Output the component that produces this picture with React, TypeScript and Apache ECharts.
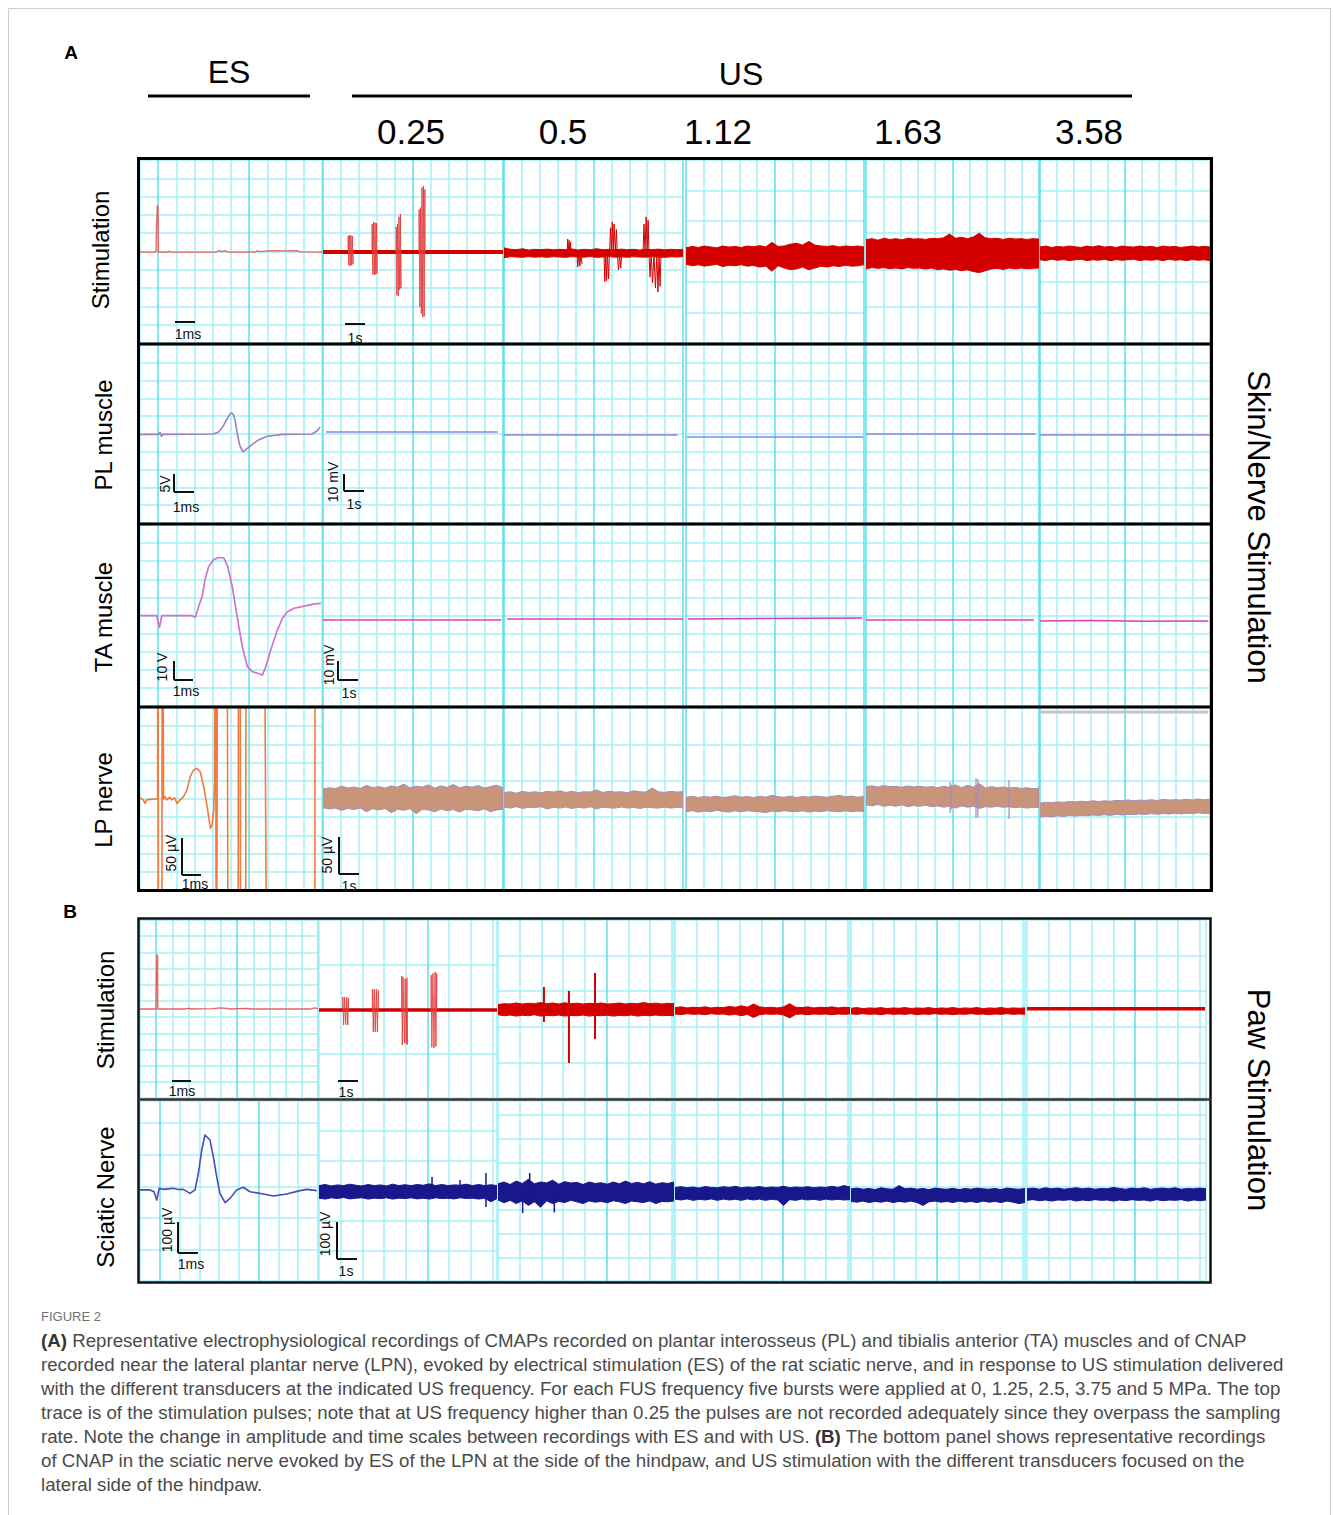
import React, { useEffect, useRef } from "react";
import * as echarts from "echarts";

/* ================= texts ================= */
const esLabel = "ES";
const usLabel = "US";
const usFrequencyLabels = ["0.25", "0.5", "1.12", "1.63", "3.58"];
const panelARowLabels = ["Stimulation", "PL muscle", "TA muscle", "LP nerve"];
const panelBRowLabels = ["Stimulation", "Sciatic Nerve"];
const panelASideLabel = "Skin/Nerve Stimulation";
const panelBSideLabel = "Paw Stimulation";
const figureLabel = "FIGURE 2";
const captionLines = [
  "{b|(A)} Representative electrophysiological recordings of CMAPs recorded on plantar interosseus (PL) and tibialis anterior (TA) muscles and of CNAP",
  "recorded near the lateral plantar nerve (LPN), evoked by electrical stimulation (ES) of the rat sciatic nerve, and in response to US stimulation delivered",
  "with the different transducers at the indicated US frequency. For each FUS frequency five bursts were applied at 0, 1.25, 2.5, 3.75 and 5 MPa. The top",
  "trace is of the stimulation pulses; note that at US frequency higher than 0.25 the pulses are not recorded adequately since they overpass the sampling",
  "rate. Note the change in amplitude and time scales between recordings with ES and with US. {b|(B)} The bottom panel shows representative recordings",
  "of CNAP in the sciatic nerve evoked by ES of the LPN at the side of the hindpaw, and US stimulation with the different transducers focused on the",
  "lateral side of the hindpaw.",
];

/* ================= data (x, y in tenths of each recording panel) ================= */
// ---- Panel A, row 1: stimulation ----
const aStimES = [[0,4.97],[0.88,4.97],[0.9,6.2],[0.93,6.2],[0.95,7.49],[0.99,7.49],[1.01,4.97],[1.5,4.97],[1.6,5.02],[1.7,4.97],[4.2,4.97],[4.35,5.05],[4.5,4.99],[4.65,5.05],[4.8,4.97],[6.3,4.97],[6.45,5.04],[6.6,4.99],[7.2,5.04],[8,5.03],[8.6,5.05],[8.8,4.98],[10,4.97]];
const aStim025Base = [[0,4.97],[10,4.97]];
const aStim025Bursts = [
  [[1.39,4.97],[1.4,5.85],[1.43,4.25],[1.47,5.9],[1.51,4.21],[1.55,5.88],[1.59,4.25],[1.63,5.85],[1.67,4.3],[1.67,4.97]],
  [[2.72,4.97],[2.73,6.5],[2.77,3.75],[2.81,6.61],[2.85,3.72],[2.89,6.58],[2.93,3.75],[2.97,6.55],[3.0,3.8],[3.0,4.97]],
  [[4.06,4.97],[4.07,6.34],[4.1,2.6],[4.14,6.5],[4.18,2.57],[4.22,6.9],[4.26,2.9],[4.3,7.05],[4.33,3.0],[4.33,4.97]],
  [[5.33,4.97],[5.34,7.3],[5.38,1.97],[5.42,7.4],[5.46,1.6],[5.5,8.5],[5.54,1.42],[5.58,8.58],[5.62,1.45],[5.66,8.4],[5.67,4.97]],
];
const aStim05Hi = [5.2,5.12,5.1,5.15,5.08,5.12,5.1,5.13,5.09,5.12,5.1,5.14,5.08,5.12,5.1,5.15,5.1,5.12,5.09,5.13,5.1,5.12,5.08,5.12,5.1,5.13,5.09,5.12,5.1,5.12];
const aStim05Lo = [4.65,4.72,4.7,4.68,4.72,4.69,4.71,4.68,4.72,4.7,4.68,4.72,4.7,4.69,4.72,4.68,4.7,4.72,4.69,4.71,4.68,4.72,4.7,4.69,4.72,4.7,4.68,4.71,4.7,4.72];
const aStim05Bursts = [
  [[3.52,4.9],[3.56,5.68],[3.6,4.9],[3.64,5.6],[3.68,4.9],[3.72,5.5],[3.74,4.9]],
  [[4.08,4.9],[4.12,4.15],[4.18,4.9],[4.24,4.2],[4.3,4.9],[4.36,4.3]],
  [[5.59,4.9],[5.63,3.35],[5.68,4.9],[5.73,3.4],[5.78,4.9],[5.84,3.5],[5.9,5.0],[5.95,6.3],[6.0,5.0],[6.05,6.61],[6.1,5.0],[6.15,6.5],[6.22,5.0],[6.28,6.2],[6.33,4.9],[6.4,4.0],[6.46,4.9],[6.52,4.1],[6.58,4.9]],
  [[7.77,5.0],[7.82,6.5],[7.88,5.0],[7.94,6.89],[8.0,5.0],[8.05,6.7],[8.1,4.9],[8.16,3.6],[8.22,4.9],[8.3,3.3],[8.38,4.9],[8.46,3.0],[8.54,4.8],[8.6,2.79],[8.66,4.8],[8.72,3.1],[8.77,4.8]],
];
const aStim112Hi = [5.2,5.28,5.22,5.3,5.25,5.2,5.3,5.24,5.28,5.22,5.3,5.26,5.32,5.25,5.5,5.28,5.3,5.4,5.45,5.35,5.55,5.35,5.3,5.28,5.32,5.25,5.3,5.27,5.3,5.25];
const aStim112Lo = [4.3,4.22,4.28,4.2,4.25,4.3,4.18,4.25,4.22,4.28,4.2,4.24,4.15,4.2,3.92,4.22,4.1,4.0,4.05,4.15,4.0,4.1,4.2,4.15,4.22,4.18,4.25,4.2,4.22,4.28];
const aStim163Hi = [5.65,5.7,5.62,5.72,5.66,5.7,5.64,5.72,5.68,5.7,5.66,5.72,5.7,5.75,5.95,5.72,5.78,5.7,5.8,6.0,5.75,5.7,5.72,5.66,5.72,5.68,5.7,5.66,5.7,5.68];
const aStim163Lo = [4.05,4.12,4.08,4.12,4.06,4.1,4.05,4.12,4.08,4.1,4.04,4.1,4.0,4.05,3.98,4.02,3.95,4.0,3.9,3.85,3.95,4.05,4.08,4.02,4.1,4.05,4.1,4.06,4.08,4.1];
const aStim358Hi = [5.25,5.3,5.22,5.28,5.24,5.3,5.26,5.22,5.3,5.25,5.32,5.24,5.28,5.22,5.3,5.26,5.24,5.3,5.25,5.28,5.22,5.3,5.25,5.28,5.22,5.26,5.3,5.24,5.28,5.25];
const aStim358Lo = [4.55,4.5,4.58,4.52,4.56,4.5,4.55,4.58,4.5,4.55,4.52,4.58,4.5,4.56,4.52,4.55,4.58,4.5,4.55,4.52,4.56,4.5,4.58,4.52,4.55,4.5,4.56,4.52,4.55,4.5];

// ---- Panel A, row 2: PL muscle ----
const aPlES = [[0,4.98],[1.04,4.98],[1.1,5.1],[1.18,4.88],[1.28,4.98],[4.01,5.0],[4.3,5.1],[4.51,5.34],[4.7,5.7],[4.84,5.95],[4.95,6.14],[5.05,6.18],[5.15,6.05],[5.22,5.8],[5.3,5.3],[5.38,4.83],[5.5,4.3],[5.66,3.99],[5.85,4.15],[6.04,4.3],[6.43,4.62],[6.98,4.87],[7.86,4.98],[9.45,5.0],[9.73,5.17],[9.89,5.39]];
const aPlUS = [
  [[0.17,5.11],[9.72,5.11]],
  [[0,4.94],[9.7,4.94]],
  [[0.05,4.83],[9.95,4.83]],
  [[0,5.0],[9.8,5.0]],
  [[0,4.94],[10,4.94]],
];

// ---- Panel A, row 3: TA muscle ----
const aTaES = [[0,4.99],[0.92,4.99],[1.07,4.35],[1.2,4.99],[2.86,4.99],[3.04,4.9],[3.22,5.49],[3.41,6.04],[3.59,7.06],[3.77,7.7],[4.05,8.1],[4.33,8.19],[4.6,8.19],[4.82,7.7],[5.07,6.59],[5.34,4.93],[5.62,3.28],[5.9,2.17],[6.17,1.9],[6.45,1.81],[6.72,1.71],[6.91,2.17],[7.18,3.09],[7.55,4.2],[7.83,4.85],[8.1,5.21],[8.47,5.4],[9.02,5.52],[9.57,5.64],[9.94,5.67]];
const aTaUS = [
  [[0,4.75],[9.9,4.75]],
  [[0.17,4.81],[10,4.81]],
  [[0.1,4.81],[9.9,4.86]],
  [[0,4.75],[9.7,4.75]],
  [[0,4.7],[3,4.72],[6,4.68],[9.9,4.7]],
];

// ---- Panel A, row 4: LP nerve ----
const aLpES = [[0,5.07],[0.18,4.95],[0.28,4.76],[0.37,4.95],[0.55,4.98],[0.88,5.0],[0.97,5.0],[0.99,22],[1.02,-12],[1.2,-12],[1.22,22],[1.26,22],[1.29,5.0],[1.38,5.13],[1.47,4.95],[1.62,5.09],[1.75,4.95],[1.9,5.07],[2.03,4.76],[2.21,4.95],[2.39,5.13],[2.58,5.49],[2.76,6.23],[2.94,6.59],[3.13,6.68],[3.31,6.5],[3.5,5.68],[3.69,4.58],[3.87,3.39],[3.96,3.57],[4.05,4.4],[4.1,5.86],[4.14,22],[4.2,-12],[4.27,22],[4.78,22],[4.85,-12],[5.38,-12],[5.42,22],[5.5,22],[5.53,-12],[5.8,-12],[5.83,22],[6.8,22],[7.0,-12],[9.6,-12],[9.62,22],[10,22]];
const aLp025Hi = [5.55,5.62,5.58,5.7,5.6,5.66,5.58,5.75,5.62,5.68,5.6,5.72,5.65,5.82,5.62,5.7,5.66,5.78,5.6,5.72,5.64,5.8,5.62,5.7,5.65,5.74,5.6,5.68,5.76,5.62];
const aLp025Lo = [4.52,4.45,4.5,4.38,4.48,4.42,4.5,4.3,4.46,4.4,4.48,4.25,4.44,4.38,4.46,4.2,4.42,4.4,4.3,4.45,4.36,4.42,4.28,4.44,4.4,4.35,4.46,4.3,4.4,4.44];
const aLp05Hi = [5.35,5.4,5.32,5.42,5.36,5.4,5.34,5.42,5.38,5.45,5.36,5.42,5.35,5.4,5.38,5.5,5.36,5.42,5.38,5.4,5.35,5.45,5.4,5.38,5.6,5.4,5.36,5.42,5.38,5.4];
const aLp05Lo = [4.55,4.5,4.58,4.48,4.55,4.52,4.58,4.45,4.55,4.5,4.56,4.48,4.54,4.5,4.57,4.46,4.55,4.52,4.5,4.56,4.5,4.54,4.48,4.55,4.52,4.5,4.56,4.5,4.54,4.52];
const aLp112Hi = [5.1,5.15,5.08,5.14,5.1,5.16,5.08,5.12,5.18,5.1,5.14,5.08,5.15,5.1,5.2,5.12,5.1,5.15,5.08,5.14,5.1,5.16,5.12,5.1,5.15,5.2,5.12,5.16,5.1,5.14];
const aLp112Lo = [4.3,4.36,4.28,4.34,4.3,4.38,4.32,4.28,4.35,4.3,4.36,4.32,4.3,4.25,4.34,4.3,4.36,4.32,4.3,4.35,4.28,4.34,4.3,4.36,4.32,4.3,4.35,4.3,4.34,4.32];
const aLp163Hi = [5.68,5.72,5.66,5.74,5.68,5.7,5.64,5.72,5.66,5.7,5.65,5.68,5.62,5.7,5.64,5.78,5.62,5.75,5.66,5.85,5.6,5.68,5.62,5.66,5.6,5.64,5.58,5.62,5.56,5.6];
const aLp163Lo = [4.68,4.62,4.7,4.6,4.66,4.6,4.68,4.58,4.64,4.6,4.66,4.58,4.62,4.55,4.6,4.5,4.62,4.55,4.6,4.48,4.58,4.55,4.6,4.54,4.58,4.52,4.56,4.5,4.55,4.52];
const aLp163Spikes = [[4.86,4.23,5.93],[4.92,4.4,5.8],[6.36,3.96,6.15],[6.47,4.0,6.1],[8.27,3.9,6.04]];
const aLp358Hi = [4.78,4.82,4.8,4.84,4.82,4.86,4.84,4.88,4.85,4.9,4.86,4.9,4.88,4.92,4.9,4.95,4.9,4.94,4.92,4.96,4.92,4.98,4.94,4.96,4.94,4.98,4.95,5.0,4.96,4.98];
const aLp358Lo = [4.0,4.05,4.02,4.08,4.04,4.1,4.06,4.1,4.08,4.12,4.1,4.14,4.1,4.16,4.12,4.16,4.14,4.18,4.15,4.2,4.16,4.2,4.18,4.22,4.18,4.22,4.2,4.24,4.2,4.22];

// ---- Panel B, row 1: stimulation ----
const bStimES = [[0,5.0],[0.9,5.0],[0.92,6.5],[0.94,6.5],[0.95,8.03],[0.99,8.03],[1.0,5.0],[2.5,5.0],[2.7,5.03],[2.9,5.0],[4.1,5.02],[4.5,5.06],[4.9,5.04],[5.1,5.0],[6.0,5.04],[6.2,5.0],[9.6,5.0],[9.8,5.06],[10,5.02]];
const bStim025Base = [[0,4.94],[10,4.94]];
const bStim025Bursts = [
  [[1.33,4.94],[1.34,5.67],[1.38,4.1],[1.44,5.65],[1.5,4.12],[1.56,5.67],[1.62,4.1],[1.65,5.6],[1.65,4.94]],
  [[2.99,4.94],[3.0,6.12],[3.05,3.71],[3.1,6.1],[3.16,3.72],[3.22,6.12],[3.28,3.71],[3.33,6.05],[3.33,4.94]],
  [[4.64,4.94],[4.65,6.85],[4.68,2.98],[4.72,6.8],[4.8,3.1],[4.84,6.7],[4.9,3.05],[4.94,6.75],[4.96,3.0],[4.96,4.94]],
  [[6.29,4.94],[6.3,6.9],[6.34,2.85],[6.4,7.0],[6.46,2.81],[6.52,7.08],[6.57,2.9],[6.61,7.0],[6.61,4.94]],
];
const bStimC2Hi = [5.25,5.3,5.28,5.34,5.28,5.32,5.3,5.36,5.3,5.34,5.28,5.35,5.3,5.33,5.28,5.32,5.3,5.34,5.28,5.3,5.34,5.28,5.32,5.3,5.36,5.3,5.33,5.28,5.32,5.3];
const bStimC2Lo = [4.68,4.62,4.66,4.6,4.65,4.62,4.68,4.6,4.64,4.62,4.66,4.6,4.64,4.62,4.66,4.6,4.64,4.62,4.65,4.6,4.64,4.62,4.66,4.6,4.64,4.62,4.66,4.62,4.64,4.62];
const bStimC2Spikes = [[2.61,4.27,6.24],[4.03,1.97,6.01],[5.51,3.31,7.02]];
const bStimC3Hi = [5.08,5.12,5.06,5.1,5.08,5.12,5.06,5.1,5.08,5.14,5.1,5.18,5.1,5.28,5.12,5.08,5.1,5.06,5.12,5.3,5.1,5.08,5.12,5.06,5.1,5.08,5.12,5.06,5.1,5.08];
const bStimC3Lo = [4.72,4.68,4.74,4.7,4.72,4.68,4.74,4.7,4.72,4.66,4.7,4.62,4.7,4.52,4.68,4.72,4.7,4.72,4.66,4.5,4.7,4.72,4.68,4.72,4.7,4.72,4.68,4.72,4.7,4.72];
const bStimC4Hi = [5.04,5.08,5.02,5.06,5.04,5.08,5.02,5.06,5.04,5.08,5.03,5.06,5.04,5.08,5.02,5.06,5.04,5.08,5.03,5.06,5.04,5.08,5.02,5.06,5.04,5.08,5.03,5.06,5.04,5.06];
const bStimC4Lo = [4.72,4.7,4.74,4.7,4.72,4.68,4.74,4.7,4.72,4.7,4.74,4.68,4.72,4.7,4.74,4.7,4.72,4.68,4.72,4.7,4.74,4.7,4.72,4.68,4.72,4.7,4.74,4.7,4.72,4.7];
const bStimC5 = [[0,5.02],[9.95,5.02]];

// ---- Panel B, row 2: sciatic nerve ----
const bSciES = [[0,5.06],[0.56,5.06],[0.79,4.96],[0.94,4.5],[1.08,5.15],[1.31,5.09],[1.6,5.12],[1.87,5.15],[2.15,5.08],[2.43,5.09],[2.81,4.87],[3.09,5.06],[3.28,5.98],[3.47,7.28],[3.65,8.11],[3.93,7.83],[4.12,6.91],[4.31,5.79],[4.49,4.87],[4.78,4.35],[5.06,4.59],[5.43,5.06],[5.8,5.21],[6.18,4.96],[6.93,4.83],[7.49,4.72],[8.24,4.83],[8.99,5.02],[9.37,5.09],[9.93,5.02]];
const bSciC1Hi = [5.3,5.36,5.28,5.34,5.3,5.38,5.32,5.28,5.36,5.3,5.34,5.28,5.38,5.3,5.35,5.3,5.36,5.32,5.4,5.3,5.36,5.3,5.34,5.32,5.38,5.3,5.36,5.3,5.35,5.3];
const bSciC1Lo = [4.6,4.55,4.62,4.58,4.64,4.56,4.6,4.62,4.55,4.6,4.58,4.62,4.55,4.6,4.58,4.62,4.56,4.6,4.55,4.62,4.58,4.6,4.56,4.62,4.58,4.6,4.55,4.6,4.4,4.58];
const bSciC1Spikes = [[6.35,4.9,5.78],[7.92,4.9,5.61],[9.38,4.11,6.0]];
const bSciC2Hi = [5.4,5.5,5.36,5.55,5.42,5.65,5.4,5.5,5.45,5.6,5.38,5.52,5.44,5.48,5.36,5.5,5.42,5.46,5.38,5.5,5.4,5.55,5.42,5.48,5.4,5.52,5.38,5.46,5.42,5.5];
const bSciC2Lo = [4.5,4.35,4.48,4.3,4.45,4.2,4.4,4.1,4.45,4.3,4.42,4.36,4.48,4.4,4.3,4.45,4.38,4.42,4.35,4.46,4.4,4.3,4.44,4.4,4.36,4.45,4.3,4.42,4.4,4.45];
const bSciC2Spikes = [[1.4,3.78,5.2],[1.8,4.3,6.0],[3.2,3.8,5.1]];
const bSciC3Hi = [5.2,5.24,5.18,5.22,5.16,5.25,5.2,5.18,5.24,5.2,5.26,5.18,5.22,5.2,5.25,5.18,5.22,5.2,5.26,5.18,5.22,5.2,5.24,5.18,5.22,5.2,5.26,5.2,5.3,5.22];
const bSciC3Lo = [4.55,4.5,4.56,4.48,4.54,4.5,4.56,4.48,4.55,4.5,4.54,4.48,4.56,4.5,4.55,4.48,4.54,4.5,4.2,4.52,4.48,4.55,4.5,4.54,4.48,4.55,4.5,4.54,4.5,4.52];
const bSciC4Hi = [5.12,5.16,5.1,5.14,5.08,5.18,5.12,5.1,5.3,5.12,5.16,5.1,5.14,5.08,5.16,5.12,5.1,5.15,5.08,5.14,5.1,5.16,5.12,5.1,5.14,5.08,5.16,5.12,5.1,5.14];
const bSciC4Lo = [4.42,4.38,4.44,4.36,4.42,4.38,4.44,4.36,4.42,4.38,4.44,4.36,4.2,4.4,4.44,4.38,4.42,4.36,4.44,4.38,4.42,4.36,4.44,4.38,4.42,4.36,4.44,4.38,4.3,4.36];
const bSciC5Hi = [5.12,5.16,5.1,5.18,5.12,5.16,5.1,5.14,5.18,5.12,5.16,5.1,5.14,5.12,5.2,5.14,5.1,5.16,5.12,5.18,5.1,5.14,5.16,5.12,5.18,5.1,5.14,5.12,5.16,5.12];
const bSciC5Lo = [4.48,4.52,4.46,4.5,4.44,4.5,4.48,4.52,4.44,4.5,4.46,4.52,4.48,4.5,4.44,4.5,4.46,4.52,4.48,4.5,4.44,4.52,4.46,4.5,4.48,4.52,4.44,4.5,4.46,4.5];

/* ================= layout & style ================= */
const MINOR = "#a3eff6";
const MAJOR = "#5ddfea";
const GRID_W = 1.5;
const FONT = "Liberation Sans";

const A_ROWS = [[160, 343], [345, 523], [525, 706], [708, 890]];
const A_COLS = [[140, 322], [323, 503], [504, 683], [686, 864], [866, 1039], [1040, 1210]];
const A_NY = [[10, 10, 5, 6, 5, 6], [10, 10, 10, 10, 10, 10], [10, 10, 10, 10, 10, 10], [10, 5, 5, 5, 5, 5]];
const A_XO = [1, 0, 0, 0, 0, 0];
const B_ROWS = [[920, 1098], [1101, 1281]];
const B_COLS = [[140, 318], [319, 497], [498, 674], [675, 850], [851, 1025], [1027, 1206]];
const B_NX = [[11, 8.2, 8.1, 8.1, 8.1, 8.3], [9, 8.2, 8.1, 8.1, 8.1, 8.3]];
const B_NY = [[11, 4, 5, 5, 5, 5], [5.7, 6, 7.6, 7.6, 7.6, 7.6]];
const B_XP = [5, 8, 8, 8, 8, 8];
const B_XO = [[1, 5, 5, 5, 4, 5], [1, 5, 5, 5, 4, 5]];

const C = {
  esRed: "#e36262", usRed: "#d40000", burstRed: "#e23a3a",
  plES: "#9c80bf", plUS: "#8b84d8",
  taES: "#cf72cf", taUS: "#e03cb4",
  lpES: "#f27b3c", lpFill: "#c8957a", lpEdge: "#a58cb8",
  sciES: "#4b48b8", sciUS: "#18188c",
};

function buildOption() {
  const cells: any[] = [];
  A_ROWS.forEach((rw, r) =>
    A_COLS.forEach((cl, c) => cells.push({ l: cl[0], r: cl[1], t: rw[0], b: rw[1], nx: 10, ny: A_NY[r][c], xp: 5, xo: A_XO[c] }))
  );
  B_ROWS.forEach((rw, r) =>
    B_COLS.forEach((cl, c) => cells.push({ l: cl[0], r: cl[1], t: rw[0], b: rw[1], nx: B_NX[r][c], ny: B_NY[r][c], xp: B_XP[c], xo: B_XO[r][c] }))
  );
  const grid: any[] = [], xAxis: any[] = [], yAxis: any[] = [];
  cells.forEach((cell, i) => {
    grid.push({ left: cell.l, top: cell.t, width: cell.r - cell.l, height: cell.b - cell.t, show: false });
    const xCols = Array.from({ length: cell.xp }, (_, k) => (k === cell.xo ? MAJOR : MINOR));
    const hidden = { axisLine: { show: false }, axisTick: { show: false }, axisLabel: { show: false } };
    xAxis.push({ type: "value", gridIndex: i, min: 0, max: 10, interval: 10 / cell.nx, ...hidden, splitLine: { show: true, lineStyle: { color: xCols, width: GRID_W, opacity: 1 } } });
    yAxis.push({ type: "value", gridIndex: i, min: 0, max: 10, interval: 10 / cell.ny, ...hidden, splitLine: { show: true, lineStyle: { color: [MINOR], width: GRID_W, opacity: 1 } } });
  });

  const series: any[] = [];
  const A = (r: number, c: number) => r * 6 + c;
  const B = (r: number, c: number) => 24 + r * 6 + c;
  const line = (cell: number, data: any[], color: string, width: number, opacity = 1) =>
    series.push({ type: "line", xAxisIndex: cell, yAxisIndex: cell, data, symbol: "none", silent: true, clip: true, z: 3,
      lineStyle: { color, width, opacity, join: "round" } });
  // noise band: polygon between the upper and lower envelope, placed through the axes (api.coord)
  const band = (cell: number, hi: number[], lo: number[], fill: string, edge: string) => {
    const n = hi.length;
    const xs = hi.map((_, i) => (i * 10) / (n - 1));
    series.push({
      type: "custom", xAxisIndex: cell, yAxisIndex: cell, silent: true, clip: true, z: 3,
      data: [[0, 0]],
      renderItem: (_p: any, api: any) => {
        const top = xs.map((x, i) => api.coord([x, hi[i]]));
        const bot = xs.map((x, i) => api.coord([x, lo[i]])).reverse();
        return { type: "polygon", shape: { points: top.concat(bot) }, style: { fill, stroke: edge, lineWidth: 1 } };
      },
    });
  };
  const spikes = (cell: number, list: number[][], color: string, width: number) =>
    list.forEach((s) => line(cell, [[s[0], s[1]], [s[0], s[2]]], color, width));

  // Panel A row 1
  line(A(0, 0), aStimES, C.esRed, 1.3);
  line(A(0, 1), aStim025Base, C.usRed, 4);
  aStim025Bursts.forEach((b) => line(A(0, 1), b, C.burstRed, 1, 0.85));
  band(A(0, 2), aStim05Hi, aStim05Lo, C.usRed, C.usRed);
  aStim05Bursts.forEach((b) => line(A(0, 2), b, C.usRed, 1));
  band(A(0, 3), aStim112Hi, aStim112Lo, C.usRed, C.usRed);
  band(A(0, 4), aStim163Hi, aStim163Lo, C.usRed, C.usRed);
  band(A(0, 5), aStim358Hi, aStim358Lo, C.usRed, C.usRed);
  // row 2
  line(A(1, 0), aPlES, C.plES, 1.6);
  aPlUS.forEach((d, k) => line(A(1, k + 1), d, C.plUS, 1.6));
  // row 3
  line(A(2, 0), aTaES, C.taES, 1.7);
  aTaUS.forEach((d, k) => line(A(2, k + 1), d, C.taUS, 1.6));
  // row 4
  line(A(3, 0), aLpES, C.lpES, 1.6);
  band(A(3, 1), aLp025Hi, aLp025Lo, C.lpFill, C.lpEdge);
  band(A(3, 2), aLp05Hi, aLp05Lo, C.lpFill, C.lpEdge);
  band(A(3, 3), aLp112Hi, aLp112Lo, C.lpFill, C.lpEdge);
  band(A(3, 4), aLp163Hi, aLp163Lo, C.lpFill, C.lpEdge);
  spikes(A(3, 4), aLp163Spikes, C.lpEdge, 1.2);
  band(A(3, 5), aLp358Hi, aLp358Lo, C.lpFill, C.lpEdge);

  // Panel B row 1
  line(B(0, 0), bStimES, C.esRed, 1.3);
  line(B(0, 1), bStim025Base, C.usRed, 3.5);
  bStim025Bursts.forEach((b) => line(B(0, 1), b, C.burstRed, 1, 0.85));
  band(B(0, 2), bStimC2Hi, bStimC2Lo, C.usRed, C.usRed);
  spikes(B(0, 2), bStimC2Spikes, C.usRed, 2);
  band(B(0, 3), bStimC3Hi, bStimC3Lo, C.usRed, C.usRed);
  band(B(0, 4), bStimC4Hi, bStimC4Lo, C.usRed, C.usRed);
  line(B(0, 5), bStimC5, C.usRed, 3.5);
  // row 2
  line(B(1, 0), bSciES, C.sciES, 1.6);
  band(B(1, 1), bSciC1Hi, bSciC1Lo, C.sciUS, C.sciUS);
  spikes(B(1, 1), bSciC1Spikes, C.sciUS, 1.5);
  band(B(1, 2), bSciC2Hi, bSciC2Lo, C.sciUS, C.sciUS);
  spikes(B(1, 2), bSciC2Spikes, C.sciUS, 1.5);
  band(B(1, 3), bSciC3Hi, bSciC3Lo, C.sciUS, C.sciUS);
  band(B(1, 4), bSciC4Hi, bSciC4Lo, C.sciUS, C.sciUS);
  band(B(1, 5), bSciC5Hi, bSciC5Lo, C.sciUS, C.sciUS);

  /* ---------- graphics ---------- */
  const g: any[] = [];
  const text = (x: number, y: number, str: string, size: number, o: any = {}) =>
    g.push({ type: "text", x, y, rotation: o.rot || 0, z: 100, silent: true,
      style: { text: str, fill: o.fill || "#000", fontSize: size, fontFamily: o.family || FONT, fontWeight: o.weight || "normal",
        textAlign: o.align || "center", textVerticalAlign: "middle", align: o.align || "center", verticalAlign: "middle", rich: o.rich } });
  const seg = (x1: number, y1: number, x2: number, y2: number, w: number, color = "#000") =>
    g.push({ type: "line", z: 100, silent: true, shape: { x1, y1, x2, y2 }, style: { stroke: color, lineWidth: w } });

  // page frame
  g.push({ type: "rect", z: 1, silent: true, shape: { x: 8.5, y: 8.5, width: 1322, height: 1530 }, style: { fill: "none", stroke: "#cfcfcf", lineWidth: 1 } });

  text(71, 52, "A", 19, { weight: "bold" });
  text(70, 911, "B", 19, { weight: "bold" });
  text(229, 72, esLabel, 32);
  seg(148, 96, 310, 96, 3);
  text(741, 74, usLabel, 32);
  seg(352, 96, 1132, 96, 3);
  const freqX = [411, 563, 718, 908, 1089];
  usFrequencyLabels.forEach((f, i) => text(freqX[i], 131, f, 35));

  const aLabelPos = [[100, 250], [103, 435], [103, 617], [103, 800]];
  panelARowLabels.forEach((s, i) => text(aLabelPos[i][0], aLabelPos[i][1], s, 24, { rot: Math.PI / 2 }));
  const bLabelPos = [[105, 1010], [105, 1197]];
  panelBRowLabels.forEach((s, i) => text(bLabelPos[i][0], bLabelPos[i][1], s, 24, { rot: Math.PI / 2 }));
  text(1258, 527, panelASideLabel, 31, { rot: -Math.PI / 2 });
  text(1258, 1100, panelBSideLabel, 31, { rot: -Math.PI / 2 });

  // panel frames
  g.push({ type: "rect", z: 100, silent: true, shape: { x: 138.5, y: 158.5, width: 1073, height: 732 }, style: { fill: "none", stroke: "#000", lineWidth: 3 } });
  [344, 524, 707].forEach((y) => seg(138, y, 1212, y, 3));
  seg(1040, 712, 1208, 712, 3, "#c4c4c4");
  g.push({ type: "rect", z: 100, silent: true, shape: { x: 138.5, y: 918.5, width: 1072, height: 364 }, style: { fill: "none", stroke: "#111", lineWidth: 2.5 } });
  seg(138, 1099.5, 1211, 1099.5, 2.5, "#333");

  // scale bars
  const bars = [
    { h: [175, 195, 322], hl: ["1ms", 188, 334] },
    { h: [345, 365, 324], hl: ["1s", 355, 338] },
    { v: [174, 474, 492], h: [174, 194, 492], vl: ["5V", 165, 484], hl: ["1ms", 186, 507] },
    { v: [344, 474, 491], h: [344, 364, 491], vl: ["10 mV", 333, 482], hl: ["1s", 354, 504] },
    { v: [174, 661, 680], h: [174, 193, 680], vl: ["10 V", 162, 667], hl: ["1ms", 186, 691] },
    { v: [338, 661, 680], h: [338, 358, 680], vl: ["10 mV", 329, 665], hl: ["1s", 349, 693] },
    { v: [182, 838, 875], h: [182, 201, 875], vl: ["50 µV", 171, 853], hl: ["1ms", 195, 884] },
    { v: [339, 837, 874], h: [339, 359, 874], vl: ["50 µV", 327, 855], hl: ["1s", 349, 886] },
    { h: [172, 191, 1081], hl: ["1ms", 182, 1091] },
    { h: [338, 358, 1081], hl: ["1s", 346, 1092] },
    { v: [178, 1222, 1253], h: [178, 198, 1253], vl: ["100 µV", 167, 1230], hl: ["1ms", 191, 1264] },
    { v: [337, 1222, 1259], h: [337, 357, 1259], vl: ["100 µV", 325, 1234], hl: ["1s", 346, 1271] },
  ];
  bars.forEach((b: any) => {
    if (b.v) seg(b.v[0], b.v[1], b.v[0], b.v[2], 2, "#111");
    seg(b.h[0], b.h[2], b.h[1], b.h[2], 2, "#111");
    if (b.vl) text(b.vl[1], b.vl[2], b.vl[0], 14, { rot: Math.PI / 2, fill: "#111" });
    text(b.hl[1], b.hl[2], b.hl[0], 14, { fill: "#111" });
  });

  // caption
  text(41, 1316, figureLabel, 13, { align: "left", fill: "#707070" });
  captionLines.forEach((ln, i) =>
    text(41, 1340 + i * 24, ln, 18.7, { align: "left", fill: "#4a4a4a",
      rich: { b: { fontWeight: "bold", fontSize: 18.7, fontFamily: FONT, fill: "#333" } } })
  );

  return { animation: false, backgroundColor: "#fff", grid, xAxis, yAxis, series, graphic: { elements: g } };
}

export default function App() {
  const ref = useRef<HTMLDivElement>(null);
  useEffect(() => {
    document.body.style.margin = "0";
    const chart = echarts.init(ref.current as HTMLDivElement, undefined, { renderer: "svg" });
    chart.setOption(buildOption() as any);
    return () => chart.dispose();
  }, []);
  return <div ref={ref} style={{ width: 1333, height: 1515, background: "#fff" }} />;
}
